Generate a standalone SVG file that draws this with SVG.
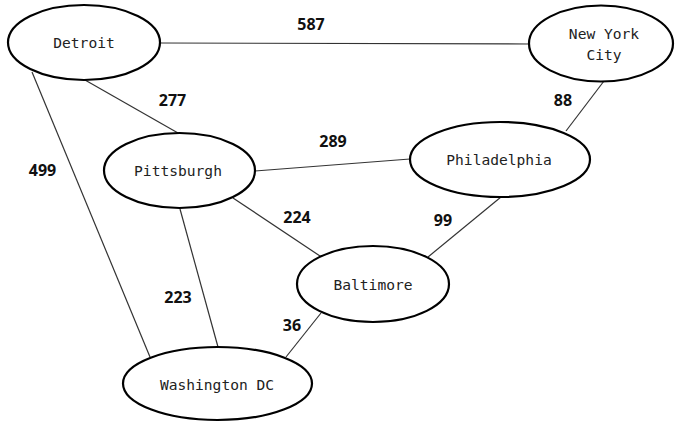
<svg xmlns="http://www.w3.org/2000/svg" width="675" height="423" viewBox="0 0 675 423">
<style>
.node ellipse{fill:#fff;stroke:#000;stroke-width:2.2}
.node text{font-family:"DejaVu Sans Mono","Liberation Mono",monospace;font-size:14.6px;fill:#222;text-anchor:middle}
.edges line{stroke:#333;stroke-width:1.2}
.lbl{font-family:"Noto Sans","Liberation Sans",sans-serif;font-weight:bold;font-size:16px;fill:#111;text-anchor:middle}
</style>
<rect width="675" height="423" fill="#fff"/>
<g id="edges" class="edges">
<line x1="160" y1="43" x2="529" y2="44"/>
<line x1="85" y1="80" x2="178" y2="133"/>
<line x1="32" y1="72" x2="150" y2="357"/>
<line x1="255" y1="171" x2="410" y2="159"/>
<line x1="604" y1="81" x2="566" y2="131"/>
<line x1="233" y1="198" x2="320" y2="256"/>
<line x1="180" y1="209" x2="218" y2="347"/>
<line x1="501" y1="197" x2="428" y2="257"/>
<line x1="321" y1="313" x2="286" y2="357"/>
</g>
<g id="labels">
<text class="lbl" x="311" y="30">587</text>
<text class="lbl" x="172.5" y="106">277</text>
<text class="lbl" x="42.5" y="176">499</text>
<text class="lbl" x="333" y="147">289</text>
<text class="lbl" x="563" y="106">88</text>
<text class="lbl" x="297" y="223">224</text>
<text class="lbl" x="443" y="226">99</text>
<text class="lbl" x="178" y="303">223</text>
<text class="lbl" x="292" y="331">36</text>
</g>
<g id="detroit" class="node"><ellipse cx="84" cy="42.5" rx="76" ry="37.5"/><text x="84" y="48">Detroit</text></g>
<g id="nyc" class="node"><ellipse cx="601" cy="43.5" rx="72" ry="38"/><text x="604" y="38.5">New York</text><text x="604" y="60">City</text></g>
<g id="pittsburgh" class="node"><ellipse cx="179.5" cy="170.5" rx="75.5" ry="37.5"/><text x="178" y="176">Pittsburgh</text></g>
<g id="philadelphia" class="node"><ellipse cx="500" cy="159.5" rx="90" ry="37.5"/><text x="499" y="165">Philadelphia</text></g>
<g id="baltimore" class="node"><ellipse cx="373" cy="284" rx="76" ry="38"/><text x="373" y="289.5">Baltimore</text></g>
<g id="washington" class="node"><ellipse cx="217.5" cy="383.5" rx="94.5" ry="36.5"/><text x="217" y="390">Washington DC</text></g>
</svg>
